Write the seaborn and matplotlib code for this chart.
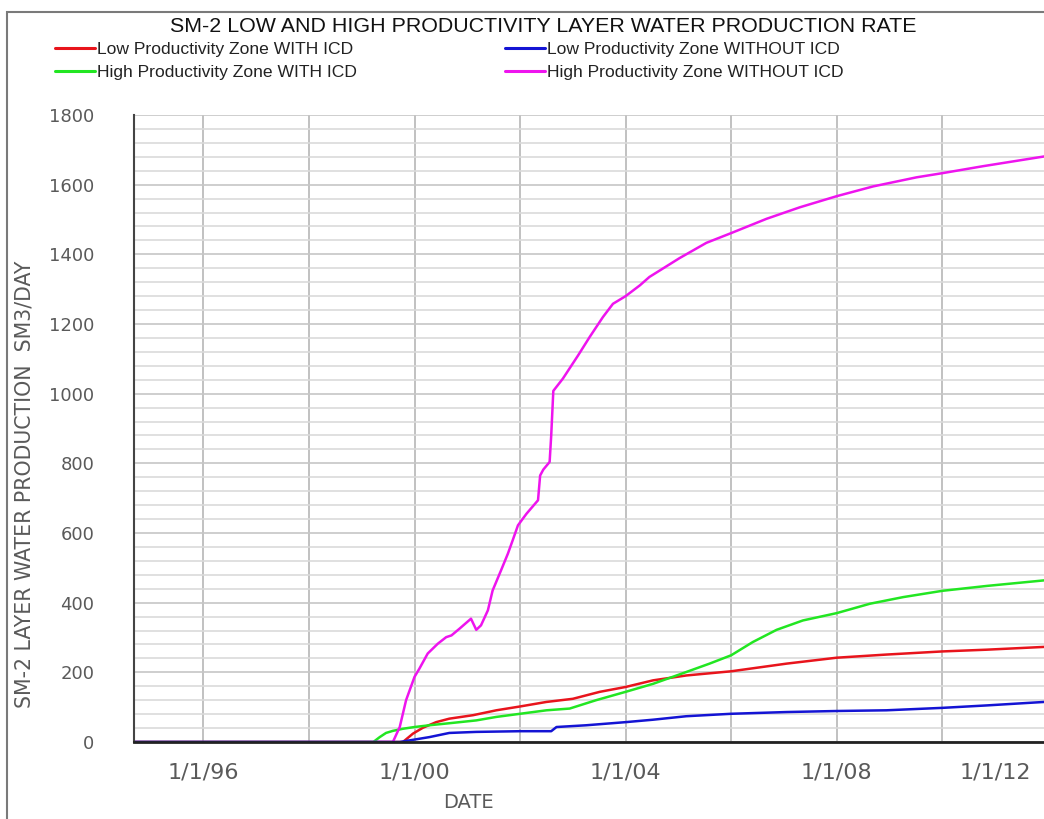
import numpy as np
import pandas as pd
import matplotlib
matplotlib.use("Agg")
import matplotlib.pyplot as plt
import seaborn as sns
from matplotlib.lines import Line2D
from matplotlib.patches import Rectangle
from matplotlib.ticker import MultipleLocator

# ---------------------------------------------------------------- data
title = "SM-2 LOW AND HIGH PRODUCTIVITY LAYER WATER PRODUCTION RATE"
y_label = "SM-2 LAYER WATER PRODUCTION  SM3/DAY"
x_label = "DATE"

low_with_name = "Low Productivity Zone WITH ICD"
low_without_name = "Low Productivity Zone WITHOUT ICD"
high_with_name = "High Productivity Zone WITH ICD"
high_without_name = "High Productivity Zone WITHOUT ICD"

# dates as decimal years, rates in SM3/DAY
low_with_years = [1994.7, 1999.78, 1999.97, 2000.16, 2000.41, 2000.66, 2001.11, 2001.55,
                  2002.0, 2002.5, 2003.0, 2003.51, 2004.0, 2004.52, 2005.15, 2006.0,
                  2007.05, 2008.0, 2008.94, 2010.0, 2010.84, 2011.93]
low_with_rate = [0, 0, 24, 41, 57, 67, 77, 91,
                 102, 115, 124, 144, 158, 177, 191, 203,
                 225, 242, 251, 260, 265, 273]

high_with_years = [1994.7, 1999.22, 1999.34, 1999.46, 1999.59, 1999.78, 2000.0, 2000.28,
                   2000.73, 2001.17, 2001.55, 2002.0, 2002.5, 2002.94, 2003.44, 2004.0,
                   2004.52, 2005.15, 2005.59, 2006.0, 2006.41, 2006.86, 2007.36, 2008.0,
                   2008.63, 2009.26, 2010.0, 2010.84, 2011.93]
high_with_rate = [0, 0, 14, 26, 32, 38, 43, 48,
                  55, 62, 72, 81, 91, 96, 120, 144,
                  167, 201, 225, 249, 287, 322, 349, 370,
                  397, 416, 434, 448, 464]

low_without_years = [1994.7, 1999.72, 2000.0, 2000.28, 2000.66, 2001.17, 2002.0, 2002.59,
                     2002.69, 2003.25, 2004.0, 2004.52, 2005.15, 2006.0, 2007.05, 2008.0,
                     2008.94, 2010.0, 2010.84, 2011.93]
low_without_rate = [0, 0, 7, 14, 26, 29, 31, 31,
                    43, 48, 57, 64, 74, 81, 86, 89,
                    91, 98, 105, 115]

high_without_years = [1994.7, 1999.59, 1999.72, 1999.84, 2000.0, 2000.09, 2000.25, 2000.44,
                      2000.60, 2000.70, 2000.85, 2001.07, 2001.17, 2001.26, 2001.39, 2001.48,
                      2001.64, 2001.77, 2001.86, 2001.96, 2002.12, 2002.34, 2002.38, 2002.44,
                      2002.56, 2002.59, 2002.63, 2002.81, 2003.10, 2003.32, 2003.57, 2003.76,
                      2004.0, 2004.27, 2004.45, 2005.02, 2005.53, 2006.0, 2006.67, 2007.30,
                      2008.0, 2008.69, 2009.51, 2010.0, 2010.77, 2011.93]
high_without_rate = [0, 0, 43, 120, 187, 210, 254, 282,
                     301, 306, 325, 354, 322, 335, 378, 435,
                     493, 541, 579, 622, 655, 694, 765, 782,
                     804, 880, 1008, 1043, 1110, 1163, 1220, 1258,
                     1280, 1311, 1335, 1389, 1433, 1461, 1502, 1535,
                     1567, 1595, 1621, 1633, 1653, 1681]

x_ticks = [1996, 1998, 2000, 2002, 2004, 2006, 2008, 2010]
x_tick_labels = ["1/1/96", "", "1/1/00", "", "1/1/04", "", "1/1/08", ""]
last_date_label = "1/1/12"
last_date_pos = 2011.0
y_ticks = [0, 200, 400, 600, 800, 1000, 1200, 1400, 1600, 1800]

colors = {
    low_with_name: "#e8141c",
    high_with_name: "#22e622",
    high_without_name: "#ee14ee",
    low_without_name: "#1414d4",
}

# ---------------------------------------------------------------- table
series = [
    (low_with_name, low_with_years, low_with_rate),
    (high_with_name, high_with_years, high_with_rate),
    (high_without_name, high_without_years, high_without_rate),
    (low_without_name, low_without_years, low_without_rate),
]
df = pd.concat(
    [pd.DataFrame({"year": yrs, "rate": vals, "series": name}) for name, yrs, vals in series],
    ignore_index=True,
)

# ---------------------------------------------------------------- figure
sns.set_style("white")
plt.rcParams["font.family"] = ["Liberation Sans", "DejaVu Sans"]

W, H = 1044, 819
fig = plt.figure(figsize=(W / 100, H / 100), dpi=100)
ax = fig.add_axes([134 / W, 1 - 742 / H, 910 / W, 627 / H])

sns.lineplot(
    data=df, x="year", y="rate", hue="series",
    hue_order=[s[0] for s in series], palette=colors,
    estimator=None, sort=False, legend=False, linewidth=1.8, ax=ax,
)

ax.set_xlim(1994.685, 2011.927)
ax.set_ylim(0, 1800)

# axes and ticks
ax.set_xticks(x_ticks)
ax.set_xticklabels(x_tick_labels)
ax.set_yticks(y_ticks)
ax.yaxis.set_minor_locator(MultipleLocator(40))

tick_grey = "#5a5a5a"
ax.tick_params(axis="y", which="major", direction="out", length=19.5, width=1.6,
               color="#333333", pad=9, labelsize=13, labelcolor=tick_grey)
ax.tick_params(axis="y", which="minor", direction="out", length=9.5, width=1.3,
               color="#333333")
ax.tick_params(axis="x", which="major", direction="out", length=10.8, width=1.6,
               color="#111111", pad=4, labelsize=16, labelcolor=tick_grey)
for lbl in ax.get_xticklabels() + ax.get_yticklabels():
    lbl.set_family("DejaVu Sans")

ax.annotate(last_date_label, xy=(last_date_pos, 0), xycoords=("data", "axes fraction"),
            xytext=(0, -(10.8 + 4)), textcoords="offset points", ha="center", va="top",
            fontsize=16, color=tick_grey, family="DejaVu Sans", annotation_clip=False)

# grid
ax.set_axisbelow(True)
ax.grid(which="major", axis="x", color="#b0b0b0", linewidth=1.1)
ax.grid(which="minor", axis="y", color="#dadada", linewidth=1.2)
ax.grid(which="major", axis="y", color="#c6c6c6", linewidth=1.2)

for side in ("top", "right"):
    ax.spines[side].set_visible(False)
ax.spines["left"].set_color("#444444")
ax.spines["left"].set_linewidth(1.5)
ax.spines["bottom"].set_color("#222222")
ax.spines["bottom"].set_linewidth(2.0)

# axis labels
ax.set_ylabel(y_label, fontsize=14.8, color=tick_grey, family="DejaVu Sans", va="center")
ax.yaxis.set_label_coords((25 - 134) / 910, (742 - 484) / 627)
ax.set_xlabel(x_label, fontsize=14, color=tick_grey, family="DejaVu Sans", va="center")
ax.xaxis.set_label_coords((468 - 134) / 910, (742 - 803) / 627)

# title
fig.text(543 / W, 1 - 27 / H, title, ha="center", va="center", fontsize=15.4, color="#111111")

# legends, two columns placed side by side
def handle(name):
    return Line2D([], [], color=colors[name], linewidth=2.2, label=name)

legend_kw = dict(loc="upper left", frameon=False, borderpad=0, borderaxespad=0,
                 handlelength=2.3, handletextpad=0.12, labelspacing=0.45,
                 fontsize=12.6, labelcolor="#222222")
fig.legend(handles=[handle(low_with_name), handle(high_with_name)],
           bbox_to_anchor=(55 / W, 1 - 42 / H), **legend_kw)
fig.legend(handles=[handle(low_without_name), handle(high_without_name)],
           bbox_to_anchor=(505 / W, 1 - 42 / H), **legend_kw)

# outer frame of the figure
fig.add_artist(Rectangle((7 / W, -0.05), 1.2, 1 - 12 / H + 0.05, transform=fig.transFigure,
                         fill=False, edgecolor="#7a7a7a", linewidth=1.5))

fig.savefig("out.png", dpi=100)
